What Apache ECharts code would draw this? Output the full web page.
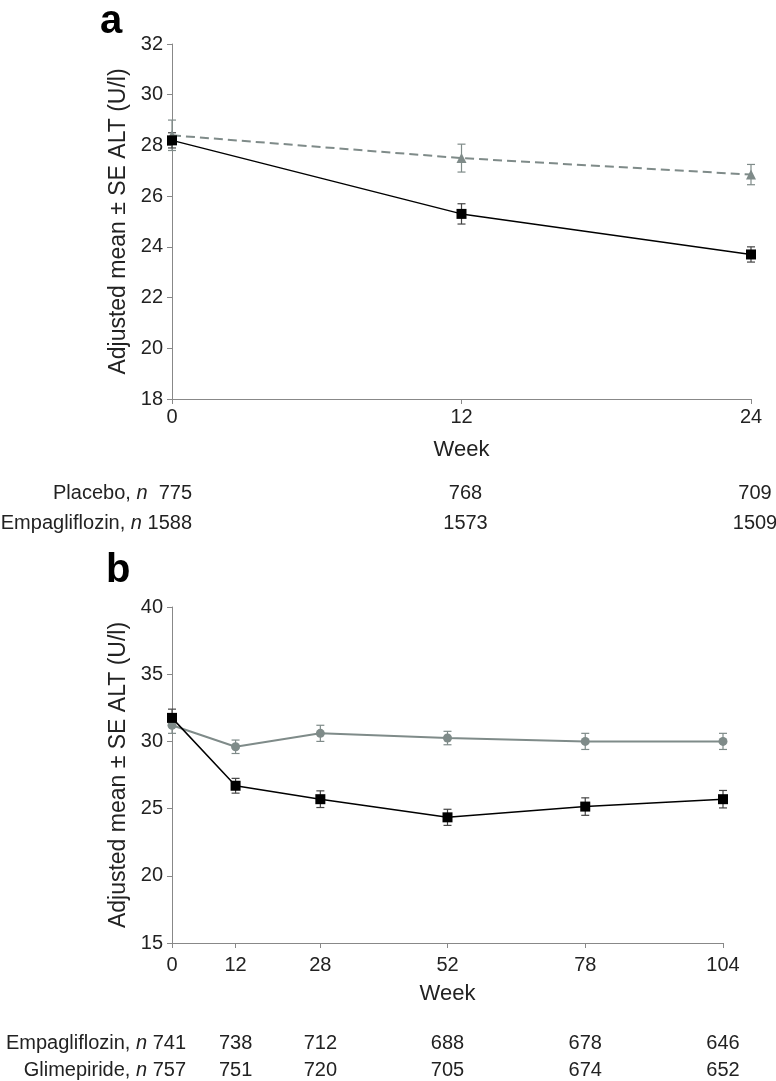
<!DOCTYPE html>
<html>
<head>
<meta charset="utf-8">
<script src="https://cdn.jsdelivr.net/npm/echarts@6/dist/echarts.min.js"></script>
<style>
html,body{margin:0;padding:0;background:#fff;}
#c{width:776px;height:1081px;}
</style>
</head>
<body>
<div id="c"></div>
<script>
// ---- Panel a data ----
const weeksA = [0, 12, 24];
const placeboA = [28.4, 27.5, 26.85];
const placeboSEA = [0.6, 0.55, 0.4];
const empaA = [28.2, 25.3, 23.7];
const empaSEA = [0.3, 0.4, 0.3];
const yTicksA = {min: 18, max: 32, interval: 2};
const placeboNA = [775, 768, 709];
const empaNA = [1588, 1573, 1509];

// ---- Panel b data ----
const weeksB = [0, 12, 28, 52, 78, 104];
const empaB = [31.75, 26.7, 25.7, 24.35, 25.15, 25.7];
const empaSEB = [0.65, 0.55, 0.62, 0.6, 0.65, 0.65];
const glimB = [31.2, 29.6, 30.6, 30.25, 30.0, 30.0];
const glimSEB = [0.6, 0.5, 0.6, 0.5, 0.6, 0.6];
const yTicksB = {min: 15, max: 40, interval: 5};
const empaNB = [741, 738, 712, 688, 678, 646];
const glimNB = [757, 751, 720, 705, 674, 652];

const FONT = "'Liberation Sans', Arial, sans-serif";
const GRAY = '#7f8b89';
const BLACK = '#000';

function pairs(xs, ys) { return xs.map((x, i) => [x, ys[i]]); }
function errData(xs, ys, se) { return xs.map((x, i) => [x, ys[i] - se[i], ys[i] + se[i]]); }
function errSeries(idx, xs, ys, se, color) {
  return {
    type: 'custom', xAxisIndex: idx, yAxisIndex: idx, z: 1, silent: true,
    data: errData(xs, ys, se),
    renderItem: function (params, api) {
      const x = api.value(0);
      const p1 = api.coord([x, api.value(1)]);
      const p2 = api.coord([x, api.value(2)]);
      const w = 4;
      const st = {stroke: color, lineWidth: 1.2};
      return {type: 'group', children: [
        {type: 'line', shape: {x1: p1[0], y1: p1[1], x2: p2[0], y2: p2[1]}, style: st},
        {type: 'line', shape: {x1: p1[0] - w, y1: p1[1], x2: p1[0] + w, y2: p1[1]}, style: st},
        {type: 'line', shape: {x1: p2[0] - w, y1: p2[1], x2: p2[0] + w, y2: p2[1]}, style: st}
      ]};
    }
  };
}

const axisLine = {lineStyle: {color: '#888', width: 1}};
const axisTick = {length: 5, lineStyle: {color: '#888'}};
const labelStyle = {color: '#222', fontSize: 20, fontFamily: FONT};
const nameStyle = {color: '#222', fontSize: 22, fontFamily: FONT};
const yNameStyle = {color: '#222', fontSize: 23, fontFamily: FONT};

const chart = echarts.init(document.getElementById('c'));
const option = {
  backgroundColor: '#fff',
  animation: false,
  grid: [
    {left: 172, top: 44, width: 579, height: 355},
    {left: 172, top: 607, width: 551, height: 336}
  ],
  xAxis: [
    {gridIndex: 0, type: 'value', min: 0, max: 24, interval: 12,
     axisLine: axisLine, axisTick: axisTick, splitLine: {show: false},
     axisLabel: Object.assign({margin: 8}, labelStyle),
     name: 'Week', nameLocation: 'middle', nameGap: 40, nameTextStyle: nameStyle},
    {gridIndex: 1, type: 'value', min: 0, max: 104,
     axisLine: axisLine, splitLine: {show: false},
     axisTick: Object.assign({customValues: weeksB}, axisTick),
     axisLabel: Object.assign({margin: 12, customValues: weeksB}, labelStyle),
     name: 'Week', nameLocation: 'middle', nameGap: 40, nameTextStyle: nameStyle}
  ],
  yAxis: [
    {gridIndex: 0, type: 'value', min: yTicksA.min, max: yTicksA.max, interval: yTicksA.interval,
     axisLine: Object.assign({show: true}, axisLine), axisTick: Object.assign({show: true}, axisTick),
     splitLine: {show: false}, axisLabel: Object.assign({margin: 9}, labelStyle),
     name: 'Adjusted mean ± SE ALT (U/l)', nameLocation: 'middle', nameGap: 36, nameTextStyle: yNameStyle},
    {gridIndex: 1, type: 'value', min: yTicksB.min, max: yTicksB.max, interval: yTicksB.interval,
     axisLine: Object.assign({show: true}, axisLine), axisTick: Object.assign({show: true}, axisTick),
     splitLine: {show: false}, axisLabel: Object.assign({margin: 9}, labelStyle),
     name: 'Adjusted mean ± SE ALT (U/l)', nameLocation: 'middle', nameGap: 36, nameTextStyle: yNameStyle}
  ],
  series: [
    errSeries(0, weeksA, placeboA, placeboSEA, GRAY),
    errSeries(0, weeksA, empaA, empaSEA, '#444'),
    {type: 'line', xAxisIndex: 0, yAxisIndex: 0, z: 2, data: pairs(weeksA, placeboA),
     symbol: 'triangle', symbolSize: 10, itemStyle: {color: GRAY},
     lineStyle: {color: GRAY, width: 2, type: [9, 5]}},
    {type: 'line', xAxisIndex: 0, yAxisIndex: 0, z: 3, data: pairs(weeksA, empaA),
     symbol: 'rect', symbolSize: 10, itemStyle: {color: BLACK},
     lineStyle: {color: BLACK, width: 1.5}},
    errSeries(1, weeksB, glimB, glimSEB, GRAY),
    errSeries(1, weeksB, empaB, empaSEB, '#444'),
    {type: 'line', xAxisIndex: 1, yAxisIndex: 1, z: 2, data: pairs(weeksB, glimB),
     symbol: 'circle', symbolSize: 9, itemStyle: {color: GRAY},
     lineStyle: {color: GRAY, width: 2}},
    {type: 'line', xAxisIndex: 1, yAxisIndex: 1, z: 3, data: pairs(weeksB, empaB),
     symbol: 'rect', symbolSize: 10, itemStyle: {color: BLACK},
     lineStyle: {color: BLACK, width: 1.5}}
  ]
};
chart.setOption(option);

// n-at-risk tables, aligned to the axes
const rich = {i: {fontStyle: 'italic', fontSize: 20, fontFamily: FONT, fill: '#222'}};
function txt(x, y, text, align) {
  return {type: 'text', x: x, y: y, silent: true,
    style: {text: text, rich: rich, fill: '#222', fontSize: 20, fontFamily: FONT,
            align: align, verticalAlign: 'middle'}};
}
const g = [];
g.push({type: 'text', left: 100, top: 2, style: {text: 'a', fontSize: 40, fontWeight: 'bold', fontFamily: FONT, fill: '#000'}});
g.push({type: 'text', left: 106, top: 551, style: {text: 'b', fontSize: 40, fontWeight: 'bold', fontFamily: FONT, fill: '#000'}});

const rowsA = [[493, 'Placebo', ', {i|n}  ', placeboNA], [523, 'Empagliflozin', ', {i|n} ', empaNA]];
rowsA.forEach(r => {
  const x0 = chart.convertToPixel({xAxisIndex: 0}, weeksA[0]);
  g.push(txt(x0 + 20, r[0], r[1] + r[2] + r[3][0], 'right'));
  for (let i = 1; i < weeksA.length; i++) {
    g.push(txt(chart.convertToPixel({xAxisIndex: 0}, weeksA[i]) + 4, r[0], String(r[3][i]), 'center'));
  }
});
const rowsB = [[1043, 'Empagliflozin', empaNB], [1070, 'Glimepiride', glimNB]];
rowsB.forEach(r => {
  const x0 = chart.convertToPixel({xAxisIndex: 1}, weeksB[0]);
  g.push(txt(x0 + 14, r[0], r[1] + ', {i|n} ' + r[2][0], 'right'));
  for (let i = 1; i < weeksB.length; i++) {
    g.push(txt(chart.convertToPixel({xAxisIndex: 1}, weeksB[i]), r[0], String(r[2][i]), 'center'));
  }
});
chart.setOption({graphic: g});
</script>
</body>
</html>
